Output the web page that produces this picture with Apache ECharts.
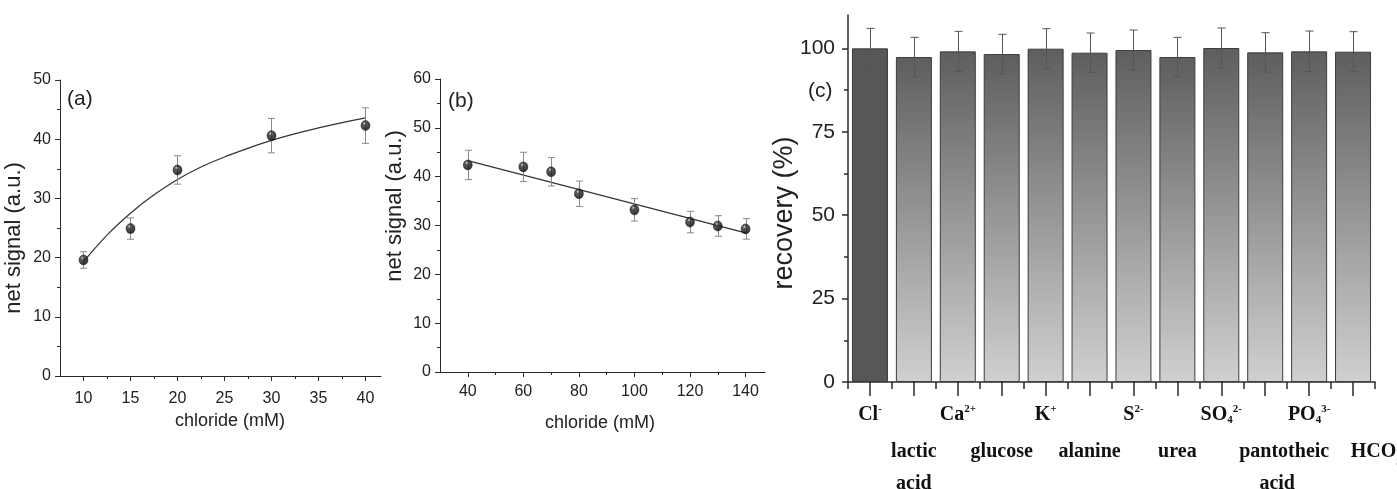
<!DOCTYPE html>
<html>
<head>
<meta charset="utf-8">
<script src="https://cdn.jsdelivr.net/npm/echarts@6/dist/echarts.min.js"></script>
<style>
html,body{margin:0;padding:0;background:#fff;}
#chart{width:1397px;height:489px;}
</style>
</head>
<body>
<div id="chart"></div>
<script>
// ---------- data ----------
// panel (a)
const aX = [10, 15, 20, 30, 40];
const aY = [19.6, 24.9, 34.8, 40.6, 42.3];
const aErr = [1.4, 1.8, 2.4, 2.9, 3.0];
const aFitX = [10, 12.5, 15, 17.5, 20, 22.5, 25, 30, 35, 40];
const aFitY = [19.3, 23.8, 27.5, 30.6, 33.2, 35.3, 37.0, 39.8, 41.9, 43.6];
const aTicks = [10, 15, 20, 25, 30, 35, 40];
const aMinorTicks = [12.5, 17.5, 22.5, 27.5, 32.5, 37.5];

// panel (b)
const bX = [40, 60, 70, 80, 100, 120, 130, 140];
const bY = [42.4, 42.0, 41.0, 36.5, 33.2, 30.7, 29.9, 29.3];
const bErr = [3.0, 3.0, 2.9, 2.6, 2.3, 2.2, 2.1, 2.1];
const bFitX = [40, 140];
const bFitY = [43.3, 28.5];
const bTicks = [40, 60, 80, 100, 120, 140];
const bMinorTicks = [50, 70, 90, 110, 130];

// panel (c)
const cCategories = ['Cl-', 'lactic acid', 'Ca2+', 'glucose', 'K+', 'alanine', 'S2-', 'urea', 'SO42-', 'pantotheic acid', 'PO43-', 'HCO3-'];
const cLabels = [
  '{t|Cl}{sup|-}',
  '{gap| }\n{u|lactic}\n{u|acid}',
  '{t|Ca}{sup|2+}',
  '{gap| }\n{u|glucose}',
  '{t|K}{sup|+}',
  '{gap| }\n{u|alanine}',
  '{t|S}{sup|2-}',
  '{gap| }\n{u|urea}',
  '{t|SO}{sub|4}{sup|2-}',
  '{gap| }\n{up|pantotheic}\n{uq|acid}',
  '{t|PO}{sub|4}{sup|3-}',
  '{gap| }\n{uh|HCO}{subu|3}{supu|-}'
];
const cValues = [100, 97.4, 99.1, 98.3, 99.9, 98.7, 99.5, 97.4, 100.1, 98.8, 99.1, 99.0];
const cErr = [6.0, 5.9, 6.0, 5.9, 6.0, 5.9, 6.0, 5.9, 6.0, 5.9, 6.1, 6.0];
const cTicks = [0, 25, 50, 75, 100];
const cMinorTicks = [12.5, 37.5, 62.5, 87.5];

// ---------- helpers ----------
const SANS = 'Liberation Sans, Arial, sans-serif';
const SERIF = 'Liberation Serif, Times New Roman, serif';
const AX = '#2a2a2a';

function errRender(capHalf, color) {
  return function (params, api) {
    const x = api.value(0), y = api.value(1), e = api.value(2);
    const t = api.coord([x, y + e]);
    const b = api.coord([x, y - e]);
    const cx = Math.round(t[0]) + 0.5;
    const st = { stroke: color, lineWidth: 1 };
    return {
      type: 'group',
      children: [
        { type: 'line', shape: { x1: cx, y1: t[1], x2: cx, y2: b[1] }, style: st },
        { type: 'line', shape: { x1: cx - capHalf, y1: t[1], x2: cx + capHalf, y2: t[1] }, style: st },
        { type: 'line', shape: { x1: cx - capHalf, y1: b[1], x2: cx + capHalf, y2: b[1] }, style: st }
      ]
    };
  };
}

const sphere = {
  type: 'radial', x: 0.38, y: 0.3, r: 0.7,
  colorStops: [
    { offset: 0, color: '#d8d8d8' },
    { offset: 0.22, color: '#333' },
    { offset: 1, color: '#000' }
  ]
};

function valueXAxis(grid, min, max, ticks, minor, margin) {
  return [
    {
      type: 'value', gridIndex: grid, min: min, max: max, position: 'bottom',
      axisLine: { show: true, lineStyle: { color: AX, width: 1 } },
      axisTick: { show: true, length: 5, customValues: ticks, lineStyle: { color: AX } },
      axisLabel: { show: true, customValues: ticks, margin: margin, color: '#222', fontSize: 16, fontFamily: SANS },
      splitLine: { show: false }
    },
    {
      type: 'value', gridIndex: grid, min: min, max: max, position: 'bottom',
      axisLine: { show: false },
      axisTick: { show: true, length: 3, customValues: minor, lineStyle: { color: AX } },
      axisLabel: { show: false },
      splitLine: { show: false }
    }
  ];
}

function valueYAxis(grid, max, interval) {
  return {
    type: 'value', gridIndex: grid, min: 0, max: max, interval: interval,
    axisLine: { show: true, lineStyle: { color: AX, width: 1 } },
    axisTick: { show: true, length: 5, lineStyle: { color: AX } },
    minorTick: { show: true, splitNumber: 2, length: 3, lineStyle: { color: AX } },
    axisLabel: { margin: 9, color: '#222', fontSize: 16, fontFamily: SANS },
    splitLine: { show: false }
  };
}

const barFill = {
  type: 'linear', x: 0, y: 0, x2: 0, y2: 1,
  colorStops: [{ offset: 0, color: '#5e5e5e' }, { offset: 1, color: '#d0d0d0' }]
};

const lab = (extra) => Object.assign({ fontFamily: SERIF, fontWeight: 'bold', fontSize: 20, color: '#111' }, extra);

const chart = echarts.init(document.getElementById('chart'));

const option = {
  backgroundColor: '#fff',
  animation: false,
  grid: [
    { left: 60, top: 80, width: 321, height: 296, outerBoundsMode: 'none', containLabel: false },
    { left: 440, top: 79, width: 325, height: 293, outerBoundsMode: 'none', containLabel: false },
    { left: 848, top: 15, width: 527, height: 367, outerBoundsMode: 'none', containLabel: false }
  ],
  xAxis: [
    ...valueXAxis(0, 7.5, 41.65, aTicks, aMinorTicks, 15),
    ...valueXAxis(1, 30, 147, bTicks, bMinorTicks, 12),
    {
      type: 'category', gridIndex: 2, data: cCategories, position: 'bottom',
      axisLine: { show: true, lineStyle: { color: AX, width: 1.5 } },
      axisTick: { show: true, alignWithLabel: true, interval: 0, length: 14, lineStyle: { color: AX, width: 1.5 } },
      axisLabel: {
        interval: 0, margin: 22, color: '#111', hideOverlap: false,
        formatter: function (v, i) { return cLabels[i]; },
        rich: {
          t: lab({ lineHeight: 22 }),
          sup: lab({ fontSize: 11, lineHeight: 10, verticalAlign: 'top' }),
          sub: lab({ fontSize: 11, lineHeight: 12, verticalAlign: 'bottom' }),
          gap: { fontSize: 4, lineHeight: 32 },
          u: lab({ lineHeight: 32 }),
          up: lab({ lineHeight: 32, padding: [0, 0, 0, 38] }),
          uq: lab({ lineHeight: 32, padding: [0, 0, 0, 24] }),
          uh: lab({ lineHeight: 32, padding: [0, 0, 0, 50] }),
          supu: lab({ fontSize: 11, lineHeight: 18, verticalAlign: 'top' }),
          subu: lab({ fontSize: 11, lineHeight: 22, verticalAlign: 'bottom' })
        }
      },
      splitLine: { show: false }
    },
    {
      type: 'category', gridIndex: 2, data: cCategories, position: 'bottom',
      axisLine: { show: false },
      axisTick: { show: true, alignWithLabel: false, interval: 0, length: 7, lineStyle: { color: AX, width: 1.5 } },
      axisLabel: { show: false },
      splitLine: { show: false }
    }
  ],
  yAxis: [
    valueYAxis(0, 50, 10),
    valueYAxis(1, 60, 10),
    {
      type: 'value', gridIndex: 2, min: 0, max: 110, position: 'left',
      axisLine: { show: true, lineStyle: { color: AX, width: 1.5 } },
      axisTick: { show: true, length: 6, customValues: cTicks, lineStyle: { color: AX, width: 1.5 } },
      axisLabel: { customValues: cTicks, margin: 13, color: '#222', fontSize: 21, fontFamily: SANS },
      splitLine: { show: false }
    },
    {
      type: 'value', gridIndex: 2, min: 0, max: 110, position: 'left',
      axisLine: { show: false },
      axisTick: { show: true, length: 4, customValues: cMinorTicks, lineStyle: { color: AX, width: 1.5 } },
      axisLabel: { show: false },
      splitLine: { show: false }
    }
  ],
  graphic: [
    { type: 'text', left: 67, top: 89, style: { text: '(a)', font: '21px ' + SANS, fill: '#222' } },
    { type: 'text', left: 448, top: 91, style: { text: '(b)', font: '21px ' + SANS, fill: '#222' } },
    { type: 'text', left: 808, top: 81, style: { text: '(c)', font: '21px ' + SANS, fill: '#222' } },
    { type: 'text', x: 14, y: 238, rotation: Math.PI / 2, style: { text: 'net signal (a.u.)', font: '22px ' + SANS, fill: '#222', align: 'center', verticalAlign: 'middle' } },
    { type: 'text', x: 395, y: 206, rotation: Math.PI / 2, style: { text: 'net signal (a.u.)', font: '22px ' + SANS, fill: '#222', align: 'center', verticalAlign: 'middle' } },
    { type: 'text', x: 785, y: 213, rotation: Math.PI / 2, style: { text: 'recovery (%)', font: '27px ' + SANS, fill: '#222', align: 'center', verticalAlign: 'middle' } },
    { type: 'text', x: 230, y: 421, style: { text: 'chloride (mM)', font: '18px ' + SANS, fill: '#222', align: 'center', verticalAlign: 'middle' } },
    { type: 'text', x: 600, y: 423, style: { text: 'chloride (mM)', font: '18px ' + SANS, fill: '#222', align: 'center', verticalAlign: 'middle' } }
  ],
  series: [
    // panel (a)
    {
      type: 'line', xAxisIndex: 0, yAxisIndex: 0, smooth: 0.4, symbol: 'none',
      data: aFitX.map((x, i) => [x, aFitY[i]]),
      lineStyle: { color: '#333', width: 1.2 }, z: 2
    },
    {
      type: 'custom', xAxisIndex: 0, yAxisIndex: 0, renderItem: errRender(3.5, '#8a8a8a'),
      data: aX.map((x, i) => [x, aY[i], aErr[i]]), z: 3
    },
    {
      type: 'scatter', xAxisIndex: 0, yAxisIndex: 0, symbol: 'circle', symbolSize: [9, 10],
      data: aX.map((x, i) => [x, aY[i]]),
      itemStyle: { color: sphere, borderColor: '#000', borderWidth: 0.5 }, z: 4
    },
    // panel (b)
    {
      type: 'line', xAxisIndex: 2, yAxisIndex: 1, symbol: 'none',
      data: bFitX.map((x, i) => [x, bFitY[i]]),
      lineStyle: { color: '#333', width: 1.2 }, z: 2
    },
    {
      type: 'custom', xAxisIndex: 2, yAxisIndex: 1, renderItem: errRender(3.5, '#8a8a8a'),
      data: bX.map((x, i) => [x, bY[i], bErr[i]]), z: 3
    },
    {
      type: 'scatter', xAxisIndex: 2, yAxisIndex: 1, symbol: 'circle', symbolSize: [9, 10],
      data: bX.map((x, i) => [x, bY[i]]),
      itemStyle: { color: sphere, borderColor: '#000', borderWidth: 0.5 }, z: 4
    },
    // panel (c)
    {
      type: 'bar', xAxisIndex: 4, yAxisIndex: 2, barWidth: 36,
      data: cValues.map((v, i) => ({
        value: v,
        itemStyle: i === 0 ? { color: '#575757' } : { color: barFill }
      })),
      itemStyle: { borderColor: '#3c3c3c', borderWidth: 1 }, z: 2
    },
    {
      type: 'custom', xAxisIndex: 4, yAxisIndex: 2, renderItem: errRender(4, '#555'),
      data: cValues.map((v, i) => [i, v, cErr[i]]), z: 3
    }
  ]
};
chart.setOption(option);
</script>
</body>
</html>
